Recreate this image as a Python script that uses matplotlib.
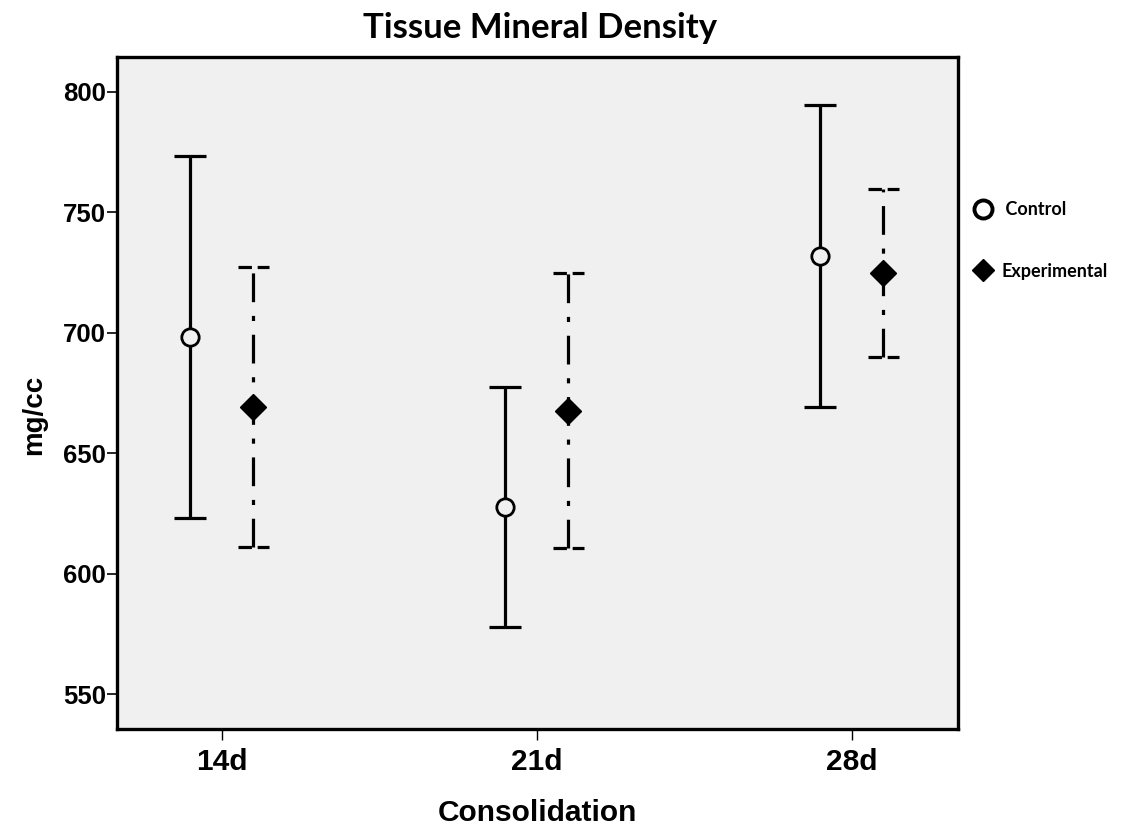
import numpy as np
import matplotlib.pyplot as plt
from matplotlib.lines import Line2D

# data (mg/cc)
groups = ["14d", "21d", "28d"]
control_mean = [698.3, 627.7, 731.9]
control_low = [623.2, 577.9, 669.2]
control_high = [773.4, 677.5, 794.5]
exp_mean = [669.2, 667.6, 724.9]
exp_low = [611.1, 610.7, 690.0]
exp_high = [727.4, 724.7, 759.6]

pos = np.arange(1, len(groups) + 1)
shift = 0.1
cap = 0.05
lw = 2.3
dashdot = (0, (9, 4.3, 1.6, 4.3))

fig = plt.figure(figsize=(11.23, 8.27), dpi=100)
ax = fig.add_axes([117 / 1123, 1 - 729 / 827, 841 / 1123, 672 / 827])
ax.set_facecolor("#f0f0f0")

# control: solid bars, open circles
xc = pos - shift
cm = np.array(control_mean)
ax.errorbar(xc, cm, yerr=[cm - np.array(control_low), np.array(control_high) - cm],
            fmt="none", ecolor="black", elinewidth=lw, capsize=11.5, capthick=lw, zorder=2)
ax.plot(xc, cm, "o", ms=12.5, mfc="#f0f0f0", mec="black", mew=2, ls="none", zorder=3)

# experimental: dash-dot bars, filled diamonds
xe = pos + shift
ax.vlines(xe, exp_low, exp_high, colors="black", linewidth=lw, linestyles=[dashdot], zorder=2)
ax.hlines(exp_low, xe - cap, xe + cap, colors="black", linewidth=lw,
          linestyles=[(0, (4.2, 1.8))], zorder=2)
ax.hlines(exp_high, xe - cap, xe + cap, colors="black", linewidth=lw,
          linestyles=[(0, (4.2, 1.8))], zorder=2)
ax.plot(xe, exp_mean, "D", ms=13.5, color="black", ls="none", zorder=3)

ax.set_xlim(0.667, 3.337)
ax.set_ylim(535.5, 814.4)
ax.set_xticks(pos)
ax.set_xticklabels(groups)
ax.set_yticks([550, 600, 650, 700, 750, 800])

for s in ax.spines.values():
    s.set_linewidth(2.4)
ax.tick_params(axis="y", length=7, width=1.2, pad=1)
ax.tick_params(axis="x", length=8, width=1.0, pad=6)
for t in ax.get_yticklabels():
    t.set_fontfamily("Liberation Sans")
    t.set_fontweight("bold")
    t.set_fontsize(18.5)
for t in ax.get_xticklabels():
    t.set_fontfamily("Liberation Sans")
    t.set_fontweight("bold")
    t.set_fontsize(21.5)

ax.set_xlabel("Consolidation", fontfamily="Liberation Sans", fontweight="bold", fontsize=21.5)
ax.xaxis.set_label_coords(0.5, -0.104)
ax.set_ylabel("mg/cc", fontfamily="Liberation Sans", fontweight="bold", fontsize=20)
ax.yaxis.set_label_coords(-0.083, 0.467)
fig.text(0.481, 0.966, "Tissue Mineral Density", ha="center", va="center",
         fontfamily="Lato", fontweight="bold", fontsize=25)

handles = [
    Line2D([], [], marker="o", ls="none", ms=13, mfc="white", mec="black", mew=2.8),
    Line2D([], [], marker="D", ls="none", ms=11, color="black"),
]
leg = fig.legend(handles, [" Control", "Experimental"], loc="upper left",
                 bbox_to_anchor=(0.853, 0.776), frameon=False, labelspacing=2.45,
                 handletextpad=0.5, handlelength=1.0,
                 prop={"family": "Lato", "weight": "bold", "size": 13})

fig.savefig("out.png", dpi=100)
